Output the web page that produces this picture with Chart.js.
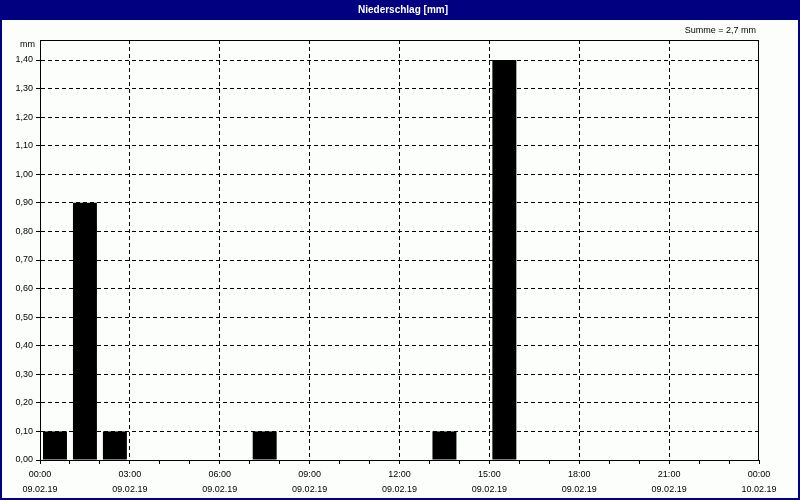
<!DOCTYPE html>
<html>
<head>
<meta charset="utf-8">
<script src="https://cdn.jsdelivr.net/npm/chart.js@4/dist/chart.umd.min.js"></script>
<style>
  html, body { margin: 0; padding: 0; background: #fcfefc; }
  #wrap { width: 800px; height: 500px; position: relative; }
</style>
</head>
<body>
<div id="wrap"><canvas id="c" width="800" height="500"></canvas></div>
<script>
// ---- Data ----
const chartTitle = 'Niederschlag [mm]';
const unitLabel = 'mm';
const hourStart = [0,1,2,3,4,5,6,7,8,9,10,11,12,13,14,15,16,17,18,19,20,21,22,23];
const precip    = [0.1,0.9,0.1,0,0,0,0,0.1,0,0,0,0,0,0.1,0,1.4,0,0,0,0,0,0,0,0];
const xTimeLabels = ['00:00','03:00','06:00','09:00','12:00','15:00','18:00','21:00','00:00'];
const xDateLabels = ['09.02.19','09.02.19','09.02.19','09.02.19','09.02.19','09.02.19','09.02.19','09.02.19','10.02.19'];
const yTickValues = [0,0.1,0.2,0.3,0.4,0.5,0.6,0.7,0.8,0.9,1.0,1.1,1.2,1.3,1.4];
const yMax = 1.47;

const total = precip.reduce((a, b) => a + b, 0);
const sumText = 'Summe = ' + total.toFixed(1).replace('.', ',') + ' mm';

const FONT = "'Liberation Sans', Arial, sans-serif";
const NAVY = '#000080';

const decor = {
  id: 'decor',
  beforeDraw(chart) {
    const ctx = chart.ctx;
    ctx.save();
    ctx.fillStyle = '#fcfefc';
    ctx.fillRect(0, 0, chart.width, chart.height);
    ctx.fillStyle = NAVY;
    ctx.fillRect(0, 0, chart.width, 20);
    ctx.restore();
  },
  afterDraw(chart) {
    const ctx = chart.ctx;
    const a = chart.chartArea;
    ctx.save();
    ctx.strokeStyle = NAVY;
    ctx.lineWidth = 2;
    ctx.strokeRect(1, 1, chart.width - 2, chart.height - 2);
    ctx.strokeStyle = '#000';
    ctx.lineWidth = 1;
    ctx.strokeRect(Math.round(a.left) + 0.5, Math.round(a.top) + 0.5,
                   Math.round(a.right - a.left) - 1, Math.round(a.bottom - a.top));
    ctx.fillStyle = '#fff';
    ctx.font = 'bold 10px ' + FONT;
    ctx.textAlign = 'center';
    ctx.textBaseline = 'middle';
    ctx.fillText(chartTitle, chart.width / 2 + 3, 10);
    ctx.fillStyle = '#000';
    ctx.font = '9px ' + FONT;
    ctx.textAlign = 'right';
    ctx.fillText(sumText, a.right - 3, 31);
    ctx.fillText(unitLabel, a.left - 5, a.top + 5);
    ctx.restore();
  }
};

new Chart(document.getElementById('c'), {
  type: 'bar',
  data: {
    datasets: [{
      data: hourStart.map((h, i) => ({ x: h + 0.5, y: precip[i] })),
      backgroundColor: '#000',
      borderWidth: 0,
      barPercentage: 0.8,
      categoryPercentage: 1.0
    }]
  },
  options: {
    responsive: false,
    animation: false,
    devicePixelRatio: 1,
    layout: { padding: { top: 40, right: 41, bottom: 0, left: 0 } },
    plugins: { legend: { display: false }, title: { display: false }, tooltip: { enabled: false } },
    scales: {
      x: {
        type: 'linear',
        offset: false,
        min: 0, max: 24,
        afterFit(s) { s.height = 40; },
        ticks: {
          stepSize: 1, autoSkip: false, maxRotation: 0, minRotation: 0,
          color: '#000', padding: 3,
          font: { family: FONT, size: 9, lineHeight: 1.65 },
          callback(v) {
            if (v % 3 !== 0) return '';
            const i = v / 3;
            return [xTimeLabels[i], xDateLabels[i]];
          }
        },
        grid: {
          offset: false,
          color(ctx) {
            const v = ctx.tick && ctx.tick.value;
            return (v % 3 === 0 && v > 0 && v < 24) ? '#000' : 'rgba(0,0,0,0)';
          },
          tickColor: '#000',
          tickLength: 4,
          lineWidth: 1
        },
        border: { display: true, color: '#000', dash: [4, 3] }
      },
      y: {
        min: 0, max: yMax,
        afterFit(s) { s.width = 40; },
        afterBuildTicks(s) { s.ticks = yTickValues.map(v => ({ value: v })); },
        ticks: {
          color: '#000', padding: 3,
          font: { family: FONT, size: 9 },
          callback(v) { return v.toFixed(2).replace('.', ','); }
        },
        grid: {
          color(ctx) {
            const v = ctx.tick && ctx.tick.value;
            return (v > 0.001) ? '#000' : 'rgba(0,0,0,0)';
          },
          tickColor: '#000',
          tickLength: 4,
          lineWidth: 1
        },
        border: { display: true, color: '#000', dash: [4, 3] }
      }
    }
  },
  plugins: [decor]
});
</script>
</body>
</html>
